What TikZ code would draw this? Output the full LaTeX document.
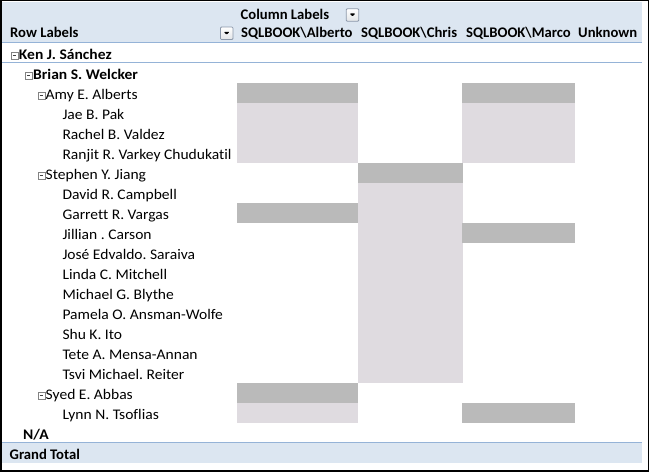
\documentclass[tikz,border=0pt]{standalone}
\usepackage{fontspec}
\setmainfont{Carlito}[Ligatures=CommonOff]
\newfontfamily\rowfont{Carlito}[Ligatures=CommonOff, FakeStretch=1.06]
\definecolor{hdr}{RGB}{220,230,241}
\definecolor{rulec}{RGB}{149,179,215}
\definecolor{cellD}{RGB}{186,186,186}
\definecolor{cellL}{RGB}{223,219,224}
\definecolor{btnB}{RGB}{140,152,170}
\definecolor{boxB}{RGB}{130,130,130}
\frenchspacing
\tikzset{
  htxt/.style={anchor=base west, inner sep=0pt, font=\frenchspacing\fontsize{14.67pt}{17pt}\selectfont\bfseries},
  txt/.style={anchor=base west, inner sep=0pt, font=\frenchspacing\rowfont\fontsize{14.67pt}{17pt}\selectfont},
  btxt/.style={txt, font=\frenchspacing\rowfont\fontsize{14.67pt}{17pt}\selectfont\bfseries},
  darkcell/.style={fill=cellD},
  lightcell/.style={fill=cellL},
  rulel/.style={draw=rulec, line width=1pt},
  mbox/.style={draw=boxB, fill=white, minimum size=6.8pt, inner sep=0pt, line width=0.8pt,
    path picture={\draw[line width=1pt, black!75] ([xshift=-1.8pt]path picture bounding box.center) -- ([xshift=1.8pt]path picture bounding box.center);}},
  ddbtn/.style={draw=btnB, rounded corners=1pt, minimum size=12.5pt, inner sep=0pt, line width=0.8pt,
    top color=white, bottom color=hdr!60!gray!40,
    path picture={\fill[black] ([xshift=-3pt,yshift=1.5pt]path picture bounding box.center) -- ([xshift=3pt,yshift=1.5pt]path picture bounding box.center) -- ([yshift=-1.5pt]path picture bounding box.center) -- cycle;}}
}
\begin{document}
\frenchspacing
\begin{tikzpicture}[x=1pt,y=-1pt]
\useasboundingbox (0,0) rectangle (649,473);
\fill[white] (0,0) rectangle (649,473);
% header and grand total bands
\fill[hdr] (2,2) rectangle (642,43);
\fill[hdr] (2,443) rectangle (642,463);
\draw[rulel] (2,43) -- (642,43);
\draw[rulel] (2,63) -- (642,63);
\draw[rulel] (2,443) -- (642,443);
% cells: Alberto column
\fill[darkcell] (237,83) rectangle (358,103);
\fill[lightcell] (237,103) rectangle (358,163);
\fill[darkcell] (237,203) rectangle (358,223);
\fill[darkcell] (237,383) rectangle (358,403);
\fill[lightcell] (237,403) rectangle (358,423);
% Chris column
\fill[darkcell] (358,163) rectangle (463,183);
\fill[lightcell] (358,183) rectangle (463,383);
% Marco column
\fill[darkcell] (462,83) rectangle (575,103);
\fill[lightcell] (462,103) rectangle (575,163);
\fill[darkcell] (462,223) rectangle (575,243);
\fill[darkcell] (462,403) rectangle (575,423);
% outer frame
\draw[black, line width=1.5pt] (0.75,0.75) rectangle (648.25,471.25);
% header texts
\node[htxt] (collab) at (240.5,19.3) {Column Labels};
\node[ddbtn] (btnA) at (352.5,15) {};
\node[htxt] (rowlab) at (10,38) {Row Labels};
\node[ddbtn] (btnB) at (226.7,33.3) {};
\node[htxt] (hAlb) at (241,38) {SQLBOOK\textbackslash Alberto};
\node[htxt] (hChr) at (361,38) {SQLBOOK\textbackslash Chris};
\node[htxt] (hMar) at (466,38) {SQLBOOK\textbackslash Marco};
\node[htxt] (hUnk) at (578,38) {Unknown};
% rows
\node[mbox] (mKen) at (14.5,56) {};
\node[btxt] (rKen) at (18.8,60) {Ken J. Sánchez};
\node[mbox] (mBri) at (28.6,76) {};
\node[btxt] (rBri) at (33,80) {Brian S. Welcker};
\node[mbox] (mAmy) at (41.5,96) {};
\node[txt] (rAmy) at (45.5,100) {Amy E. Alberts};
\node[txt] (rJae) at (62.3,120) {Jae B. Pak};
\node[txt] (rRac) at (62.3,140) {Rachel B. Valdez};
\node[txt] (rRan) at (62.3,160) {Ranjit R. Varkey Chudukatil};
\node[mbox] (mSte) at (41.5,176) {};
\node[txt] (rSte) at (45.5,180) {Stephen Y. Jiang};
\node[txt] (rDav) at (62.3,200) {David R. Campbell};
\node[txt] (rGar) at (62.3,220) {Garrett R. Vargas};
\node[txt] (rJil) at (62.3,240) {Jillian . Carson};
\node[txt] (rJos) at (62.3,260) {José Edvaldo. Saraiva};
\node[txt] (rLin) at (62.3,280) {Linda C. Mitchell};
\node[txt] (rMic) at (62.3,300) {Michael G. Blythe};
\node[txt] (rPam) at (62.3,320) {Pamela O. Ansman-Wolfe};
\node[txt] (rShu) at (62.3,340) {Shu K. Ito};
\node[txt] (rTet) at (62.3,360) {Tete A. Mensa-Annan};
\node[txt] (rTsv) at (62.3,380) {Tsvi Michael. Reiter};
\node[mbox] (mSye) at (41.5,396) {};
\node[txt] (rSye) at (45.5,400) {Syed E. Abbas};
\node[txt] (rLyn) at (62.3,420) {Lynn N. Tsoflias};
\node[btxt] (rNA) at (23,440) {N/A};
\node[htxt] (rGT) at (9.5,460) {Grand Total};
\end{tikzpicture}
\end{document}
